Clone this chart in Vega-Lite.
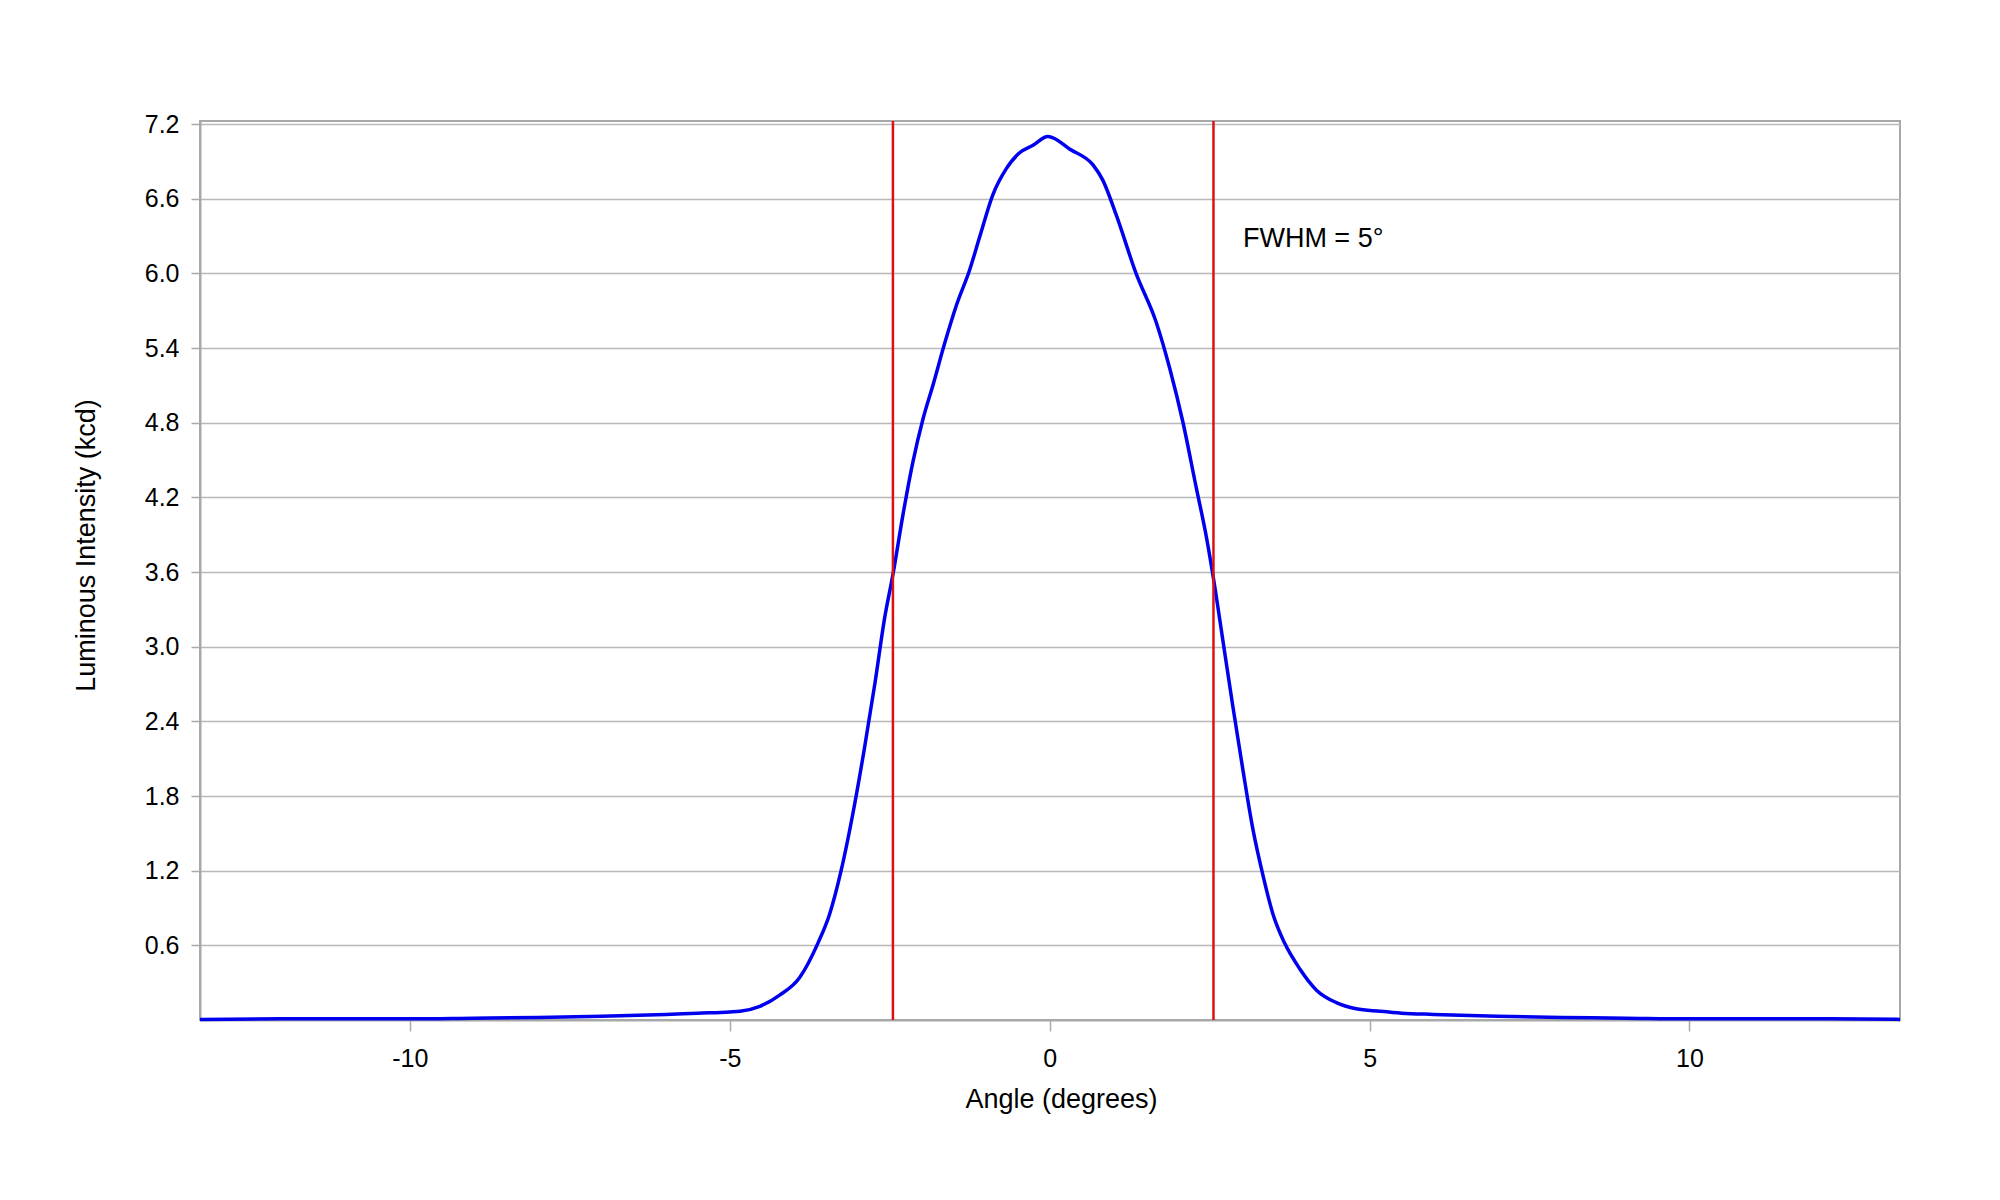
{
  "$schema": "https://vega.github.io/schema/vega-lite/v6.json",
  "width": 1700,
  "height": 899,
  "autosize": "none",
  "padding": {"left": 200, "top": 121, "right": 100, "bottom": 180},
  "background": "white",
  "config": {
    "view": {"stroke": "#a8a8a8", "strokeWidth": 2},
    "font": "Liberation Sans",
    "axis": {
      "labelFont": "Liberation Sans",
      "titleFont": "Liberation Sans",
      "labelColor": "black",
      "titleColor": "black",
      "labelFontSize": 25,
      "titleFontSize": 27,
      "titleFontWeight": "normal",
      "domainColor": "#a8a8a8",
      "domainWidth": 2,
      "tickColor": "#a8a8a8",
      "tickWidth": 1.5,
      "gridColor": "#b8b8b8",
      "gridWidth": 1.5
    }
  },
  "datasets": {
    "profile": [
      {"angle": -13.28, "intensity": 0.005},
      {"angle": -12, "intensity": 0.01},
      {"angle": -10, "intensity": 0.01},
      {"angle": -9, "intensity": 0.015},
      {"angle": -8, "intensity": 0.02},
      {"angle": -7, "intensity": 0.03},
      {"angle": -6, "intensity": 0.045},
      {"angle": -5.5, "intensity": 0.055},
      {"angle": -5.0, "intensity": 0.065},
      {"angle": -4.84, "intensity": 0.07},
      {"angle": -4.53, "intensity": 0.11},
      {"angle": -4.22, "intensity": 0.2},
      {"angle": -3.91, "intensity": 0.34},
      {"angle": -3.62, "intensity": 0.62},
      {"angle": -3.44, "intensity": 0.85},
      {"angle": -3.26, "intensity": 1.2},
      {"angle": -3.05, "intensity": 1.73},
      {"angle": -2.89, "intensity": 2.2},
      {"angle": -2.73, "intensity": 2.71},
      {"angle": -2.58, "intensity": 3.23},
      {"angle": -2.45, "intensity": 3.58},
      {"angle": -2.29, "intensity": 4.07},
      {"angle": -2.14, "intensity": 4.48},
      {"angle": -1.98, "intensity": 4.83},
      {"angle": -1.82, "intensity": 5.11},
      {"angle": -1.64, "intensity": 5.44},
      {"angle": -1.46, "intensity": 5.74},
      {"angle": -1.25, "intensity": 6.03},
      {"angle": -1.09, "intensity": 6.3},
      {"angle": -0.89, "intensity": 6.63},
      {"angle": -0.68, "intensity": 6.84},
      {"angle": -0.47, "intensity": 6.97},
      {"angle": -0.26, "intensity": 7.03},
      {"angle": -0.03, "intensity": 7.1},
      {"angle": 0.05, "intensity": 7.09},
      {"angle": 0.31, "intensity": 7.0},
      {"angle": 0.68, "intensity": 6.87},
      {"angle": 0.83, "intensity": 6.75},
      {"angle": 1.04, "intensity": 6.47},
      {"angle": 1.35, "intensity": 6.0},
      {"angle": 1.67, "intensity": 5.6},
      {"angle": 1.88, "intensity": 5.23},
      {"angle": 2.08, "intensity": 4.81},
      {"angle": 2.29, "intensity": 4.28},
      {"angle": 2.45, "intensity": 3.88},
      {"angle": 2.55, "intensity": 3.58},
      {"angle": 2.71, "intensity": 3.04},
      {"angle": 2.86, "intensity": 2.53},
      {"angle": 3.02, "intensity": 2.01},
      {"angle": 3.17, "intensity": 1.55},
      {"angle": 3.33, "intensity": 1.17},
      {"angle": 3.49, "intensity": 0.85},
      {"angle": 3.67, "intensity": 0.62},
      {"angle": 3.91, "intensity": 0.41},
      {"angle": 4.17, "intensity": 0.24},
      {"angle": 4.48, "intensity": 0.14},
      {"angle": 4.79, "intensity": 0.09},
      {"angle": 5.16, "intensity": 0.07},
      {"angle": 5.5, "intensity": 0.055},
      {"angle": 6, "intensity": 0.045},
      {"angle": 7, "intensity": 0.03},
      {"angle": 8, "intensity": 0.02},
      {"angle": 9, "intensity": 0.015},
      {"angle": 10, "intensity": 0.01},
      {"angle": 12, "intensity": 0.01},
      {"angle": 13.29, "intensity": 0.005}
    ],
    "fwhm": [
      {"angle": -2.45},
      {"angle": 2.56}
    ],
    "note": [
      {"angle": 3.02, "intensity": 6.21, "label": "FWHM = 5°"}
    ]
  },
  "layer": [
    {
      "data": {"name": "profile"},
      "mark": {"type": "line", "color": "#0000ee", "strokeWidth": 3.5, "interpolate": "monotone"},
      "encoding": {
        "x": {
          "field": "angle",
          "type": "quantitative",
          "scale": {"domain": [-13.28, 13.29], "nice": false, "zero": false},
          "axis": {
            "title": "Angle (degrees)",
            "values": [-10, -5, 0, 5, 10],
            "labelExpr": "'' + datum.value",
            "grid": false,
            "tickSize": 11,
            "labelPadding": 15,
            "titleX": 861,
            "titleY": 87,
            "titleBaseline": "alphabetic"
          }
        },
        "y": {
          "field": "intensity",
          "type": "quantitative",
          "scale": {"domain": [0, 7.225], "nice": false},
          "axis": {
            "title": "Luminous Intensity (kcd)",
            "values": [0.6, 1.2, 1.8, 2.4, 3.0, 3.6, 4.2, 4.8, 5.4, 6.0, 6.6, 7.2],
            "format": ".1f",
            "grid": true,
            "tickSize": 9,
            "labelPadding": 12,
            "titleX": -106,
            "titleY": 424,
            "titleBaseline": "alphabetic"
          }
        }
      }
    },
    {
      "data": {"name": "fwhm"},
      "mark": {"type": "rule", "color": "#dd1111", "strokeWidth": 2.5},
      "encoding": {
        "x": {"field": "angle", "type": "quantitative"}
      }
    },
    {
      "data": {"name": "note"},
      "mark": {"type": "text", "align": "left", "baseline": "alphabetic", "fontSize": 27, "font": "Liberation Sans", "color": "black"},
      "encoding": {
        "x": {"field": "angle", "type": "quantitative"},
        "y": {"field": "intensity", "type": "quantitative"},
        "text": {"field": "label"}
      }
    }
  ]
}
